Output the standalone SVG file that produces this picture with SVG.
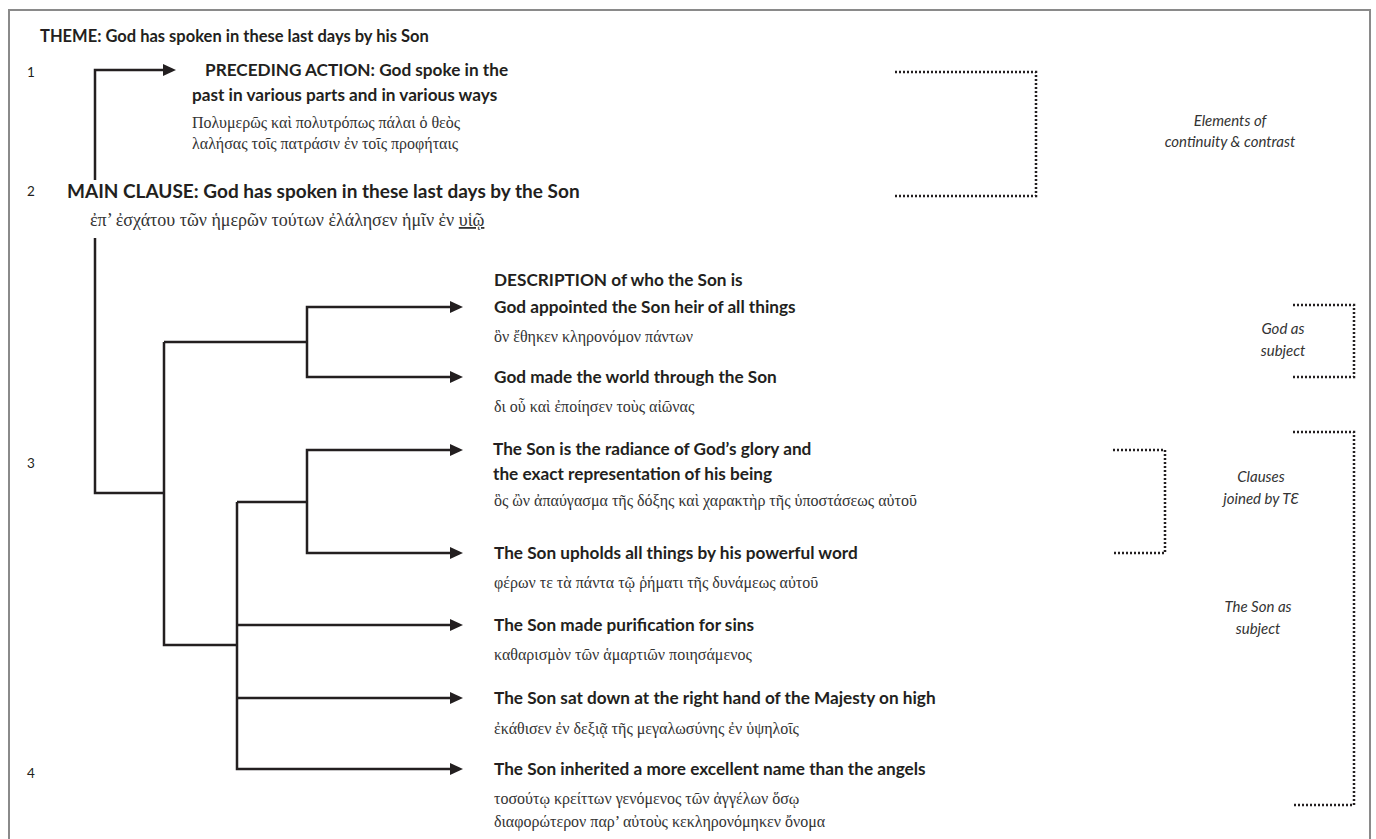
<svg xmlns="http://www.w3.org/2000/svg" width="1376" height="839" viewBox="0 0 1376 839">
<style>
.b{font-family:Lato,"Liberation Sans",sans-serif;font-weight:bold;font-size:17.2px;fill:#231f20}
.g{font-family:"Liberation Serif",serif;font-size:16px;fill:#333}
.n{font-family:Lato,"Liberation Sans",sans-serif;font-size:13.5px;fill:#231f20}
.i{font-family:Lato,"Liberation Sans",sans-serif;font-style:italic;font-size:15px;fill:#333;text-anchor:middle}
.c{fill:none;stroke:#231f20;stroke-width:2.5;stroke-linejoin:miter}
.a{marker-end:url(#ah)}
.d{fill:none;stroke:#231f20;stroke-width:2.5;stroke-dasharray:2 2}
</style>
<defs>
<marker id="ah" markerUnits="userSpaceOnUse" markerWidth="13" markerHeight="12" viewBox="0 0 13 12" refX="1" refY="6" orient="auto">
<path d="M0,0 L13,6 L0,12 z" fill="#231f20"/>
</marker>
</defs>
<rect width="1376" height="839" fill="#fff"/>
<path d="M9,839 V10 H1370 V839" fill="none" stroke="#8a8a8a" stroke-width="2"/>

<g id="connectors">
<path class="c a" d="M95,180 V70 H164"/>
<path class="c" d="M95,238 V493 H164"/>
<path class="c" d="M164,342 H307"/>
<path class="c a" d="M307,342 V307 H451"/>
<path class="c a" d="M307,342 V377 H451"/>
<path class="c" d="M164,342 V645 H237"/>
<path class="c" d="M237,502 H307"/>
<path class="c a" d="M307,502 V450 H451"/>
<path class="c a" d="M307,502 V553 H451"/>
<path class="c a" d="M237,502 V769 H451"/>
<path class="c a" d="M237,625 H451"/>
<path class="c a" d="M237,698 H451"/>
</g>

<g id="brackets">
<path class="d" d="M895,72 H1036 V196 H895"/>
<path class="d" d="M1293,305 H1354 V377 H1293"/>
<path class="d" d="M1113,450 H1165 V553 H1113"/>
<path class="d" d="M1293,432 H1354 V805 H1293"/>
</g>

<g id="theme"><text class="b" x="40" y="42" style="font-size:16.5px">THEME: God has spoken in these last days by his Son</text></g>
<g id="numbers">
<text class="n" x="27" y="77">1</text>
<text class="n" x="27" y="196">2</text>
<text class="n" x="27" y="468">3</text>
<text class="n" x="27" y="778">4</text>
</g>
<g id="preceding">
<text class="b" x="205" y="76">PRECEDING ACTION: God spoke in the</text>
<text class="b" x="192" y="101">past in various parts and in various ways</text>
<text class="g" x="192" y="128">Πολυμερῶς καὶ πολυτρόπως πάλαι ὁ θεὸς</text>
<text class="g" x="192" y="149">λαλήσας τοῖς πατράσιν ἐν τοῖς προφήταις</text>
</g>
<g id="main">
<text class="b" x="67" y="198" style="font-size:19px">MAIN CLAUSE: God has spoken in these last days by the Son</text>
<text class="g" x="90" y="226" style="font-size:18px">ἐπ’ ἐσχάτου τῶν ἡμερῶν τούτων ἐλάλησεν ἡμῖν ἐν <tspan text-decoration="underline">υἱῷ</tspan></text>
</g>
<g id="n-appointed">
<text class="b" x="494" y="286">DESCRIPTION of who the Son is</text>
<text class="b" x="494" y="313">God appointed the Son heir of all things</text>
<text class="g" x="494" y="342">ὃν ἔθηκεν κληρονόμον πάντων</text>
</g>
<g id="n-made">
<text class="b" x="494" y="383">God made the world through the Son</text>
<text class="g" x="494" y="412">δι οὗ καὶ ἐποίησεν τοὺς αἰῶνας</text>
</g>
<g id="n-radiance">
<text class="b" x="493" y="455">The Son is the radiance of God’s glory and</text>
<text class="b" x="493" y="480">the exact representation of his being</text>
<text class="g" x="494" y="506">ὃς ὢν ἀπαύγασμα τῆς δόξης καὶ χαρακτὴρ τῆς ὑποστάσεως αὐτοῦ</text>
</g>
<g id="n-upholds">
<text class="b" x="494" y="559">The Son upholds all things by his powerful word</text>
<text class="g" x="494" y="588">φέρων τε τὰ πάντα τῷ ῥήματι τῆς δυνάμεως αὐτοῦ</text>
</g>
<g id="n-purification">
<text class="b" x="494" y="631">The Son made purification for sins</text>
<text class="g" x="494" y="660">καθαρισμὸν τῶν ἁμαρτιῶν ποιησάμενος</text>
</g>
<g id="n-sat">
<text class="b" x="494" y="704">The Son sat down at the right hand of the Majesty on high</text>
<text class="g" x="494" y="734">ἐκάθισεν ἐν δεξιᾷ τῆς μεγαλωσύνης ἐν ὑψηλοῖς</text>
</g>
<g id="n-inherited">
<text class="b" x="494" y="775">The Son inherited a more excellent name than the angels</text>
<text class="g" x="494" y="804">τοσούτῳ κρείττων γενόμενος τῶν ἀγγέλων ὅσῳ</text>
<text class="g" x="494" y="827">διαφορώτερον παρ’ αὐτοὺς κεκληρονόμηκεν ὄνομα</text>
</g>
<g id="labels">
<text class="i" x="1230" y="126">Elements of</text>
<text class="i" x="1230" y="147">continuity &amp; contrast</text>
<text class="i" x="1283" y="334">God as</text>
<text class="i" x="1283" y="356">subject</text>
<text class="i" x="1261" y="482">Clauses</text>
<text class="i" x="1261" y="504">joined by TƐ</text>
<text class="i" x="1258" y="612">The Son as</text>
<text class="i" x="1258" y="634">subject</text>
</g>
</svg>
